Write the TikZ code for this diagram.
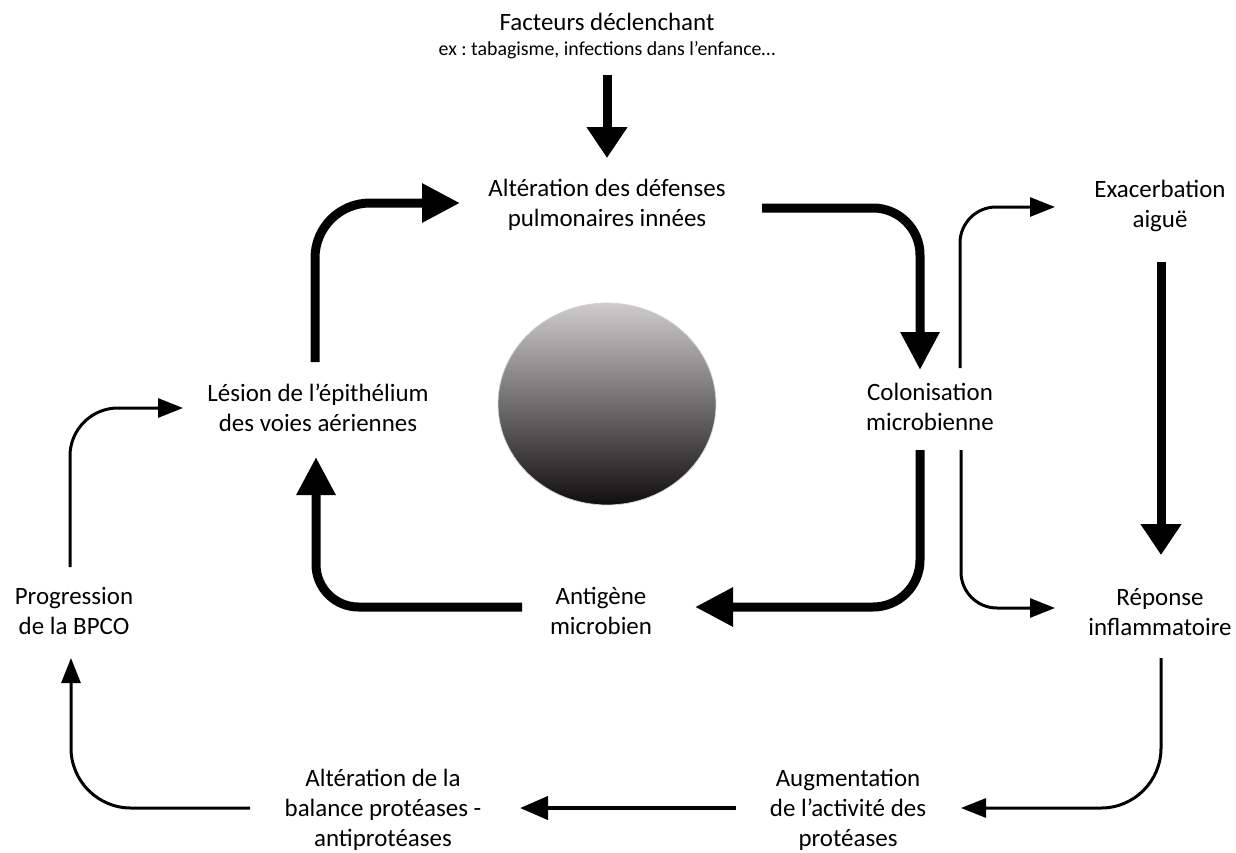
\documentclass[tikz,border=0pt]{standalone}
\usepackage{fontspec}
\setmainfont{Carlito}
\frenchspacing
\usetikzlibrary{arrows.meta,calc,shapes.geometric}
\definecolor{sphtop}{RGB}{205,203,203}
\definecolor{sphmid}{RGB}{120,118,118}
\definecolor{sphbot}{RGB}{16,14,14}
\begin{document}
\begin{tikzpicture}[x=0.02cm,y=-0.02cm,
  txt/.style={align=center,inner sep=0pt,font=\fontsize{14.2}{17}\selectfont},
  smalltxt/.style={align=center,inner sep=0pt,font=\fontsize{11.3}{14}\selectfont},
  thickarr/.style={line width=0.18cm,-{Triangle[length=0.76cm,width=0.74cm]}},
  thickst/.style={line width=0.18cm,-{Triangle[length=0.62cm,width=0.78cm]}},
  thinarr/.style={line width=0.06cm,-{Triangle[length=0.5cm,width=0.38cm]}},
  medarr/.style={line width=0.08cm,-{Triangle[length=0.56cm,width=0.46cm]}}
]
\useasboundingbox (0,0) rectangle (1236,852);

\node[ellipse,minimum width=4.36cm,minimum height=4.04cm,inner sep=0pt,
      top color=sphtop,middle color=sphmid,bottom color=sphbot,
      draw=gray!35,line width=0.4pt] (sphere) at (607,404) {};

\node[txt] (fact) at (607,22) {Facteurs déclenchant};
\node[smalltxt] (factex) at (607,50) {ex : tabagisme, infections dans l’enfance…};
\node[txt] (alt) at (607,205) {Altération des défenses\\pulmonaires innées};
\node[txt] (les) at (318,408) {Lésion de l’épithélium\\des voies aériennes};
\node[txt] (col) at (930,407) {Colonisation\\microbienne};
\node[txt] (ant) at (601,611) {Antigène\\microbien};
\node[txt] (prog) at (74,611) {Progression\\de la BPCO};
\node[txt] (exa) at (1160,206) {Exacerbation\\aiguë};
\node[txt] (rep) at (1160,612) {Réponse\\inflammatoire};
\node[txt] (aug) at (848,810) {Augmentation\\de l’activité des\\protéases};
\node[txt] (bal) at (383,810) {Altération de la\\balance protéases -\\antiprotéases};

\draw[thickst] ($(factex)+(0,25)$) -- ($(alt)+(0,-47)$);
\draw[thickarr,rounded corners=1.1cm] ($(les)+(-3,-46)$) |- ($(alt)+(-147,-2)$);
\draw[thickarr,rounded corners=0.94cm] ($(alt)+(155,3)$) -| ($(col)+(-10,-37)$);
\draw[thickarr,rounded corners=0.94cm] ($(col)+(-10,43)$) |- ($(ant)+(94,-4)$);
\draw[thickarr,rounded corners=0.85cm] ($(ant)+(-79,-4)$) -| ($(les)+(-2,49)$);
\draw[thickst] ($(exa)+(1,56)$) -- ($(rep)+(1,-57)$);
\draw[thinarr,rounded corners=0.72cm] ($(col)+(30,-39)$) |- ($(exa)+(-105,1)$);
\draw[thinarr,rounded corners=0.72cm] ($(col)+(31,43)$) |- ($(rep)+(-105,-4)$);
\draw[thinarr,rounded corners=1.2cm] ($(rep)+(1,46)$) |- ($(aug)+(113,-2)$);
\draw[medarr] ($(aug)+(-112,-2)$) -- ($(bal)+(137,-2)$);
\draw[thinarr,rounded corners=1.2cm] ($(bal)+(-133,-2)$) -| ($(prog)+(-3,47)$);
\draw[thinarr,rounded corners=0.96cm] ($(prog)+(-4,-44)$) |- ($(les)+(-135,0)$);
\end{tikzpicture}
\end{document}
